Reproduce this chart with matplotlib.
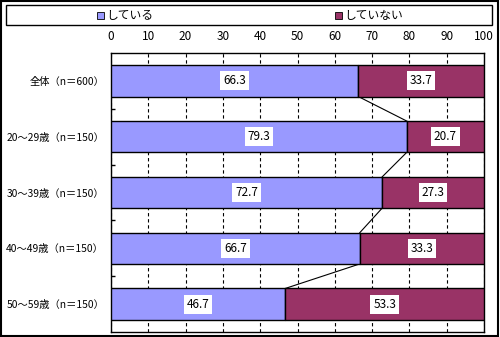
import matplotlib.pyplot as plt
from matplotlib.patches import Rectangle

plt.rcParams['font.family'] = ['Noto Sans CJK JP', 'DejaVu Sans']

categories = ['全体（n＝600）', '20～29歳（n＝150）', '30～39歳（n＝150）',
              '40～49歳（n＝150）', '50～59歳（n＝150）']
doing = [66.3, 79.3, 72.7, 66.7, 46.7]
not_doing = [33.7, 20.7, 27.3, 33.3, 53.3]
series_names = ['している', 'していない']
colors = ['#9999FF', '#993366']

fig = plt.figure(figsize=(5, 3.37), dpi=100)
ax = fig.add_axes([111/500, 1 - 332/337, 373/500, 279/337])

h = 0.56
y = list(range(len(categories)))
ax.barh(y, doing, height=h, color=colors[0], edgecolor='black', linewidth=1, zorder=3)
ax.barh(y, not_doing, left=doing, height=h, color=colors[1], edgecolor='black', linewidth=1, zorder=3)

# series lines between bars
for i in range(len(categories) - 1):
    ax.plot([doing[i], doing[i + 1]], [i + h / 2, i + 1 - h / 2], color='black', lw=0.8, zorder=2)

box = dict(boxstyle='square,pad=0.25', fc='white', ec='none')
for i in range(len(categories)):
    ax.text(doing[i] / 2, i, f'{doing[i]:.1f}', ha='center', va='center', fontsize=8.5, bbox=box, zorder=4)
    ax.text(doing[i] + not_doing[i] / 2, i, f'{not_doing[i]:.1f}', ha='center', va='center',
            fontsize=8.5, bbox=box, zorder=4)

ax.set_xlim(0, 100)
ax.set_ylim(len(categories) - 0.5, -0.5)
ax.set_xticks(range(0, 101, 10))
ax.xaxis.tick_top()
ax.tick_params(axis='x', length=0, pad=7, labelsize=8.5)
ax.grid(axis='x', color='black', linestyle=(0, (3, 2.5)), linewidth=0.8, zorder=1)
ax.set_yticks(y)
ax.set_yticklabels(categories, fontsize=7.4)
ax.set_yticks([i + 0.5 for i in range(len(categories) - 1)], minor=True)
ax.tick_params(axis='y', which='major', length=0, pad=5)
ax.tick_params(axis='y', which='minor', length=3, direction='in', width=1)
for s in ax.spines.values():
    s.set_linewidth(1)

# legend box
fig.patches.append(Rectangle((6/500, 1 - 25/337), 486/500, 20/337, transform=fig.transFigure,
                             fill=False, ec='black', lw=1))
for xp, name, c in zip([97, 335], series_names, colors):
    fig.patches.append(Rectangle((xp/500, 1 - 19/337), 7/500, 7/337, transform=fig.transFigure,
                                 fc=c, ec='black', lw=0.6))
    fig.text((xp + 9)/500, 1 - 15.5/337, name, fontsize=8.5, va='center', ha='left')

# outer border
fig.patches.append(Rectangle((1/500, 1/337), 497/500, 335/337, transform=fig.transFigure,
                             fill=False, ec='black', lw=1.5))

fig.savefig('out.png', dpi=100)
